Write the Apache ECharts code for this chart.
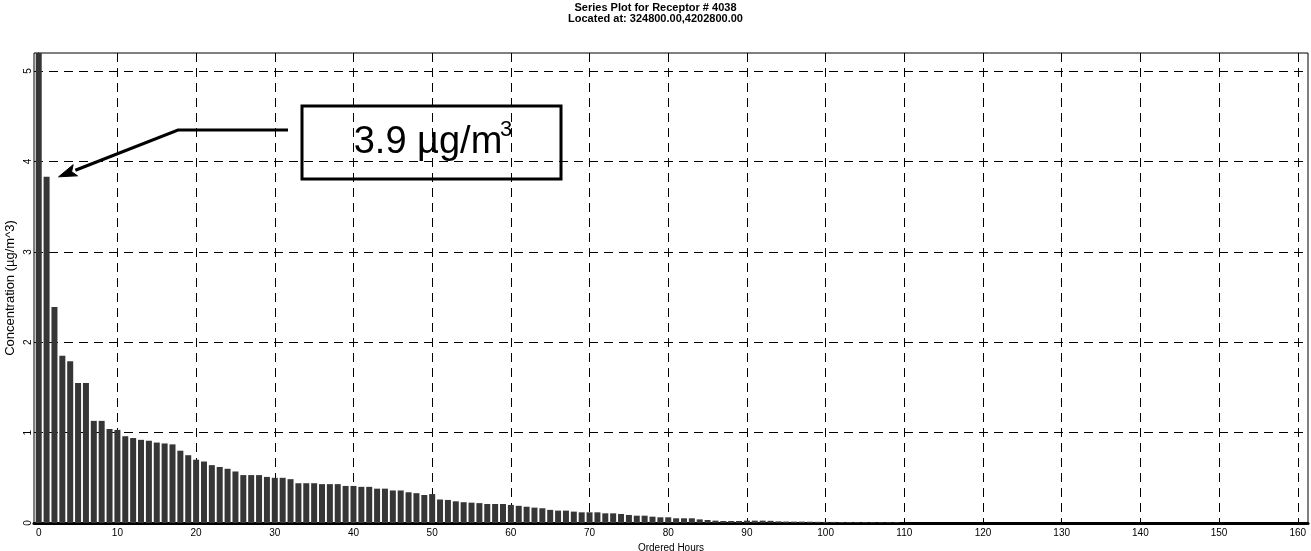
<!DOCTYPE html>
<html>
<head>
<meta charset="utf-8">
<script src="https://cdn.jsdelivr.net/npm/echarts@6/dist/echarts.min.js"></script>
<style>
html,body{margin:0;padding:0;background:#fff;}
#c{width:1311px;height:551px;}
</style>
</head>
<body>
<div id="c"></div>
<script>
// ---- data ----
const titleLines = ['Series Plot for Receptor # 4038', 'Located at: 324800.00,4202800.00'];
const xAxisName = 'Ordered Hours';
const yAxisName = 'Concentration (\u00b5g/m^3)';
const xTickValues = [0, 10, 20, 30, 40, 50, 60, 70, 80, 90, 100, 110, 120, 130, 140, 150, 160];
const yTickValues = [0, 1, 2, 3, 4, 5];
const annotationValue = '3.9 \u00b5g/m';
const annotationSup = '3';
const annotatedHour = 1;
// concentration for each ordered hour (index = ordered hour)
const concentration = [
  5.30, 3.83, 2.39, 1.85, 1.79, 1.55, 1.55, 1.13, 1.13, 1.04,
  1.03, 0.96, 0.94, 0.92, 0.91, 0.89, 0.88, 0.87, 0.80, 0.75,
  0.70, 0.68, 0.64, 0.62, 0.60, 0.57, 0.53, 0.53, 0.53, 0.51,
  0.50, 0.50, 0.485, 0.44, 0.44, 0.44, 0.43, 0.43, 0.43, 0.41,
  0.41, 0.40, 0.40, 0.38, 0.38, 0.36, 0.36, 0.34, 0.33, 0.31,
  0.32, 0.26, 0.255, 0.24, 0.23, 0.225, 0.22, 0.21, 0.21, 0.21,
  0.20, 0.19, 0.18, 0.17, 0.163, 0.145, 0.137, 0.137, 0.126, 0.118,
  0.118, 0.118, 0.107, 0.107, 0.10, 0.089, 0.081, 0.081, 0.07, 0.063,
  0.063, 0.052, 0.052, 0.052, 0.04, 0.033, 0.026, 0.022, 0.022, 0.022,
  0.026, 0.026, 0.026, 0.024, 0.018, 0.016, 0.015, 0.015, 0.014, 0.013,
  0.012, 0.012, 0.011, 0.011, 0.010, 0.010, 0.010, 0.009, 0.009, 0.009
];

// ---- chart ----
const FONT = '"Liberation Sans", Arial, sans-serif';
const chart = echarts.init(document.getElementById('c'), null, {renderer: 'canvas'});
const barData = concentration.map((v, i) => [i, v]);

const option = {
  animation: false,
  backgroundColor: '#ffffff',
  title: {
    text: titleLines.join('\n'),
    left: 'center',
    top: 2,
    padding: [0, 0, 0, 28],
    textStyle: {fontFamily: FONT, fontSize: 11, fontWeight: 'bold', lineHeight: 11, color: '#000'}
  },
  grid: {
    left: 34, right: 3, top: 53, bottom: 28,
    containLabel: false,
    outerBoundsMode: 'none',
    show: true, borderColor: '#000', borderWidth: 1, backgroundColor: 'transparent'
  },
  xAxis: {
    type: 'value',
    min: -0.6, max: 161.3,
    name: xAxisName,
    nameLocation: 'middle',
    nameGap: 16,
    nameTextStyle: {fontFamily: FONT, fontSize: 10, color: '#000'},
    axisLine: {show: true, onZero: false, lineStyle: {color: '#000', width: 3}},
    axisTick: {show: true, inside: true, length: 4, customValues: xTickValues, lineStyle: {color: '#000'}},
    axisLabel: {customValues: xTickValues, fontFamily: FONT, fontSize: 10, color: '#000', margin: 5},
    splitLine: {show: true, lineStyle: {color: '#000', width: 1, type: [9, 6]}}
  },
  yAxis: {
    type: 'value',
    min: 0, max: 5.2, interval: 1,
    name: yAxisName,
    nameLocation: 'middle',
    nameGap: 17,
    nameMoveOverlap: false,
    nameTextStyle: {fontFamily: FONT, fontSize: 13, color: '#000'},
    axisLine: {show: true, lineStyle: {color: '#000', width: 1}},
    axisTick: {show: true, inside: true, length: 4, customValues: yTickValues, lineStyle: {color: '#000'}},
    minorTick: {show: true, splitNumber: 5, length: 2, lineStyle: {color: '#000'}},
    axisLabel: {customValues: yTickValues, rotate: 90, fontFamily: FONT, fontSize: 10, color: '#000', margin: 1},
    splitLine: {show: true, lineStyle: {color: '#000', width: 1, type: [9, 6]}}
  },
  series: [{
    type: 'bar',
    data: barData,
    barWidth: 6,
    clip: true,
    itemStyle: {color: '#363636'}
  }]
};
chart.setOption(option);

// ---- annotation (callout box + arrow pointing at the annotated bar) ----
const p = chart.convertToPixel({gridIndex: 0}, [annotatedHour, concentration[annotatedHour]]);
const tip = [p[0] + 12, p[1]];
const elbow = [178, 130];
const tail = [288, 130];
const dx = elbow[0] - tip[0], dy = elbow[1] - tip[1];
const len = Math.sqrt(dx * dx + dy * dy);
const ux = dx / len, uy = dy / len;
const headLen = 18, headHalf = 6;
const base = [tip[0] + ux * headLen, tip[1] + uy * headLen];
const head = [
  tip,
  [base[0] - uy * headHalf, base[1] + ux * headHalf],
  [base[0] - ux * 4, base[1] - uy * 4],
  [base[0] + uy * headHalf, base[1] - ux * headHalf]
];
chart.setOption({
  graphic: [
    {type: 'polyline', z: 100, shape: {points: [tail, elbow, base]}, style: {stroke: '#000', lineWidth: 3, fill: null}},
    {type: 'polygon', z: 100, shape: {points: head}, style: {fill: '#000', stroke: '#000', lineWidth: 1}},
    {type: 'rect', z: 100, shape: {x: 302, y: 106, width: 259, height: 73}, style: {fill: 'transparent', stroke: '#000', lineWidth: 3}},
    {type: 'text', z: 101, x: 428, y: 143, style: {text: annotationValue, fontFamily: FONT, fontSize: 38, fill: '#000', align: 'center', verticalAlign: 'middle'}},
    {type: 'text', z: 101, x: 500, y: 130, style: {text: annotationSup, fontFamily: FONT, fontSize: 22, fill: '#000', align: 'left', verticalAlign: 'middle'}}
  ]
});
</script>
</body>
</html>
